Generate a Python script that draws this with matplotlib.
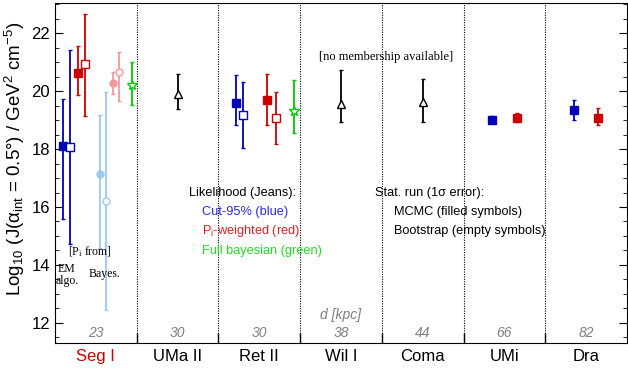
import matplotlib.pyplot as plt
from matplotlib.ticker import FixedLocator, MultipleLocator

plt.rcParams["font.family"] = ["Liberation Sans", "DejaVu Sans"]
plt.rcParams["mathtext.default"] = "regular"

galaxies = ["Seg I", "UMa II", "Ret II", "Wil I", "Coma", "UMi", "Dra"]
distances_kpc = ["23", "30", "30", "38", "44", "66", "82"]

# log10 J values per method: galaxy index, central value, 1-sigma low/high
cut95_mcmc_gal = [0, 2, 5, 6]
cut95_mcmc_val = [18.12, 19.60, 19.00, 19.35]
cut95_mcmc_lo = [15.59, 18.83, 18.90, 19.00]
cut95_mcmc_hi = [19.74, 20.57, 19.14, 19.69]

cut95_boot_gal = [0, 2]
cut95_boot_val = [18.07, 19.19]
cut95_boot_lo = [14.72, 18.03]
cut95_boot_hi = [21.41, 20.33]

pw_mcmc_gal = [0, 2, 5, 6]
pw_mcmc_val = [20.62, 19.69, 19.07, 19.07]
pw_mcmc_lo = [19.87, 18.85, 18.95, 18.83]
pw_mcmc_hi = [21.55, 20.61, 19.24, 19.43]

pw_boot_gal = [0, 2]
pw_boot_val = [20.93, 19.08]
pw_boot_lo = [19.16, 18.19]
pw_boot_hi = [22.67, 19.98]

# Seg I with P_i from the Bayesian run
cut95_bayes_mcmc = (17.15, 14.60, 19.17)
cut95_bayes_boot = (16.22, 12.45, 19.98)
pw_bayes_mcmc = (20.29, 19.91, 20.67)
pw_bayes_boot = (20.67, 19.66, 21.37)

full_bayes_gal = [0, 2]
full_bayes_val = [20.21, 19.31]
full_bayes_lo = [19.54, 18.56]
full_bayes_hi = [21.01, 20.38]

nomember_gal = [1, 3, 4]
nomember_val = [19.91, 19.55, 19.62]
nomember_lo = [19.37, 18.94, 18.94]
nomember_hi = [20.59, 20.75, 20.44]

# horizontal placement of each point inside its galaxy slot
cut95_mcmc_off = [0.10, 0.21, 0.35, 0.35]
cut95_boot_off = [0.18, 0.30]
pw_mcmc_off = [0.28, 0.60, 0.65, 0.65]
pw_boot_off = [0.37, 0.70]
bayes_off = [0.55, 0.62, 0.71, 0.78]
full_bayes_off = [0.94, 0.93]

DARK_BLUE = "#0000b8"
RED = "#cc0000"
LIGHT_BLUE = "#9cc8f4"
PINK = "#f29a9a"
GREEN = "#00cc00"


def draw(ax, gal, off, val, lo, hi, color, marker, filled, ms=6):
    xs = [g + o for g, o in zip(gal, off)]
    yerr = [[v - l for v, l in zip(val, lo)], [h - v for v, h in zip(val, hi)]]
    ax.errorbar(
        xs, val, yerr=yerr, fmt=marker, color=color, ecolor=color,
        mfc=color if filled else "white", mec=color, ms=ms, mew=1.0,
        elinewidth=1.3, capsize=1.5, capthick=1.0, zorder=3,
    )


fig = plt.figure(figsize=(6.28, 3.70), dpi=100)
ax = fig.add_axes([55 / 628, 1 - 343 / 370, 572 / 628, 340 / 370])

draw(ax, cut95_mcmc_gal, cut95_mcmc_off, cut95_mcmc_val, cut95_mcmc_lo, cut95_mcmc_hi, DARK_BLUE, "s", True)
draw(ax, cut95_boot_gal, cut95_boot_off, cut95_boot_val, cut95_boot_lo, cut95_boot_hi, DARK_BLUE, "s", False)
draw(ax, pw_mcmc_gal, pw_mcmc_off, pw_mcmc_val, pw_mcmc_lo, pw_mcmc_hi, RED, "s", True)
draw(ax, pw_boot_gal, pw_boot_off, pw_boot_val, pw_boot_lo, pw_boot_hi, RED, "s", False)
bayes_sets = [cut95_bayes_mcmc, cut95_bayes_boot, pw_bayes_mcmc, pw_bayes_boot]
bayes_cols = [LIGHT_BLUE, LIGHT_BLUE, PINK, PINK]
bayes_fill = [True, False, True, False]
for (v, l, h), o, c, f in zip(bayes_sets, bayes_off, bayes_cols, bayes_fill):
    draw(ax, [0], [o], [v], [l], [h], c, "o", f, ms=5)
draw(ax, full_bayes_gal, full_bayes_off, full_bayes_val, full_bayes_lo, full_bayes_hi, GREEN, "*", False, ms=7)
draw(ax, nomember_gal, [0.5] * len(nomember_gal), nomember_val, nomember_lo, nomember_hi, "black", "^", False, ms=6)

ax.set_xlim(0, len(galaxies))
ax.set_ylim(11.3, 23.05)

# slot separators
ax.xaxis.set_major_locator(FixedLocator(range(1, len(galaxies))))
ax.xaxis.set_major_formatter(plt.NullFormatter())
ax.xaxis.set_minor_locator(FixedLocator([i + 0.5 for i in range(len(galaxies))]))
ax.set_xticklabels(galaxies, minor=True)
ax.tick_params(axis="x", which="major", direction="in", length=7, width=1, top=False)
ax.tick_params(axis="x", which="minor", length=0, labelsize=12, pad=4)
ax.grid(True, axis="x", which="major", color="black", linestyle=(0, (1, 1.2)), linewidth=0.8)
ax.get_xticklabels(minor=True)[0].set_color(RED)

ax.yaxis.set_major_locator(MultipleLocator(2))
ax.yaxis.set_minor_locator(MultipleLocator(0.5))
ax.tick_params(axis="y", which="both", direction="in", left=True, right=True, labelsize=12)
ax.tick_params(axis="y", which="major", length=6)
ax.tick_params(axis="y", which="minor", length=3)
ax.set_ylabel("Log$_{10}$ (J($\\alpha_{int}$ = 0.5°) / GeV$^2$ cm$^{-5}$)", fontsize=13.5)
ax.yaxis.set_label_coords(-0.049, 0.541)

for i, d in enumerate(distances_kpc):
    ax.text(i + 0.5, 0.029, d, transform=ax.get_xaxis_transform(), ha="center", va="center",
            fontsize=10, style="italic", color="#808080")
ax.text(3.5, 0.082, "d [kpc]", transform=ax.get_xaxis_transform(), ha="center", va="center",
        fontsize=10, style="italic", color="#808080")

serif = ["Liberation Serif", "DejaVu Serif"]
ax.text(0.43, 14.46, "[P$_i$ from]", family=serif, fontsize=8.5, ha="center", va="center")
ax.text(0.14, 13.87, "EM", family=serif, fontsize=8.5, ha="center", va="center")
ax.text(0.15, 13.45, "algo.", family=serif, fontsize=8.5, ha="center", va="center")
ax.text(0.61, 13.70, "Bayes.", family=serif, fontsize=8.5, ha="center", va="center")
ax.text(4.05, 21.17, "[no membership available]", family=serif, fontsize=9, ha="center", va="center")


def px_x(px):
    return (px - 55) / 82.0


def px_y(py):
    return 22 - (py - 34) / 28.9


ax.text(px_x(189), px_y(193), "Likelihood (Jeans):", fontsize=9.2, va="center")
ax.text(px_x(203), px_y(212), "Cut-95% (blue)", fontsize=9.2, va="center", color="#2a2ae8")
ax.text(px_x(203), px_y(231), "P$_i$-weighted (red)", fontsize=9.2, va="center", color="#dd2222")
ax.text(px_x(203), px_y(251), "Full bayesian (green)", fontsize=9.2, va="center", color="#22dd22")
ax.text(px_x(376), px_y(193), "Stat. run (1σ error):", fontsize=9.2, va="center")
ax.text(px_x(395), px_y(212), "MCMC (filled symbols)", fontsize=9.2, va="center")
ax.text(px_x(395), px_y(231), "Bootstrap (empty symbols)", fontsize=9.2, va="center")

fig.savefig("out.png", dpi=100)
